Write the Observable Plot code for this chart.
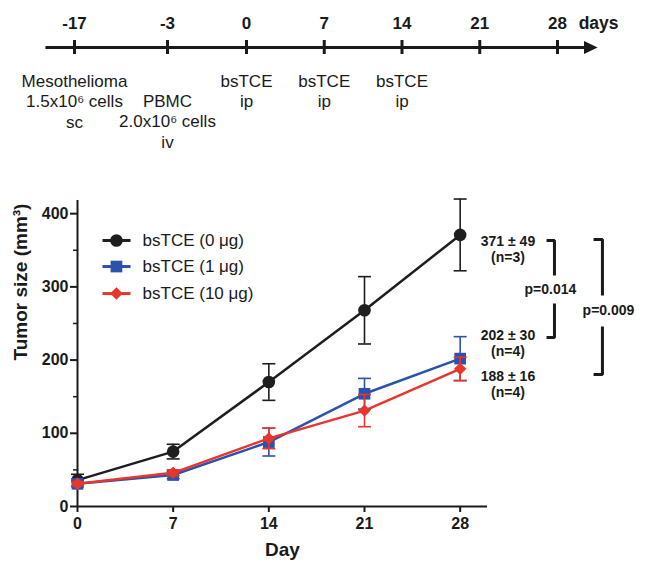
<!DOCTYPE html>
<html><head><meta charset="utf-8">
<script src="https://cdn.jsdelivr.net/npm/d3@7"></script>
<script src="https://cdn.jsdelivr.net/npm/@observablehq/plot@0.6"></script>
<style>
body{margin:0;background:#fff;font-family:"Liberation Sans",Arial,sans-serif;}
#chart svg{display:block}
</style></head><body><div id="chart"></div>
<script>
// ---- Timeline data ----
const timelineDays = [-17, -3, 0, 7, 14, 21, 28];
const timelineUnit = "days";
const timelineEvents = [
  {day: -17, row: 0, label: "Mesothelioma\n1.5x10⁶ cells\nsc"},
  {day: -3, row: 1, label: "PBMC\n2.0x10⁶ cells\niv"},
  {day: 0, row: 0, label: "bsTCE\nip"},
  {day: 7, row: 0, label: "bsTCE\nip"},
  {day: 14, row: 0, label: "bsTCE\nip"}
];

// ---- Tumor growth data ----
const days = [0, 7, 14, 21, 28];
const seriesNames = ["bsTCE (0 μg)", "bsTCE (1 μg)", "bsTCE (10 μg)"];
const mean0 = [36, 75, 170, 268, 371];
const err0 = [8, 10, 25, 46, 49];
const mean1 = [31, 43, 88, 154, 202];
const err1 = [4, 5, 19, 21, 30];
const mean10 = [31, 46, 93, 131, 188];
const err10 = [3, 4, 14, 22, 16];
const yTicks = [0, 100, 200, 300, 400];
const yMinorTicks = [50, 150, 250, 350];
const finalLabels = ["371 ± 49\n(n=3)", "202 ± 30\n(n=4)", "188 ± 16\n(n=4)"];
const pValues = ["p=0.014", "p=0.009"];

// ---- styling / layout ----
const FONT = "'Liberation Sans', Arial, Helvetica, sans-serif";
const seriesColors = ["#1e1e1e", "#2b52ad", "#e8352d"];
const seriesSymbols = ["circle", "square", "diamond2"];
const seriesR = [6.3, 6.6, 5.6];
const means = [mean0, mean1, mean10];
const errs = [err0, err1, err10];

const rows = seriesNames.flatMap((s, i) => days.map((d, j) => ({
  series: s, idx: i, day: d, mean: means[i][j],
  lo: means[i][j] - errs[i][j], hi: means[i][j] + errs[i][j]
})));

const capSymbol = {draw(ctx) { ctx.moveTo(-6.5, 0); ctx.lineTo(6.5, 0); }};
const arrowHead = {draw(ctx) { ctx.moveTo(6.8, 0); ctx.lineTo(-6.8, -6.5); ctx.lineTo(-6.8, 6.5); ctx.closePath(); }};

// ---- Timeline plot ----
const timeline = Plot.plot({
  width: 650, height: 165, margin: 0,
  x: {type: "linear", domain: [-17, -3, 0, 28], range: [74, 167, 246, 557], axis: null},
  y: {type: "identity", axis: null},
  style: {fontFamily: FONT, color: "#1a1a1a", background: "white"},
  marks: [
    Plot.ruleY([47], {x1: -21.3, x2: 31.0, stroke: "#1a1a1a", strokeWidth: 3}),
    Plot.ruleX(timelineDays, {x: d => d, y1: 40, y2: 54, stroke: "#1a1a1a", strokeWidth: 3}),
    Plot.dot([31.0], {x: d => d, y: 47, symbol: arrowHead, fill: "#1a1a1a", stroke: "none"}),
    Plot.text(timelineDays, {x: d => d, y: 23, text: d => String(d), fontWeight: "bold", fontSize: 17, lineAnchor: "middle"}),
    Plot.text([timelineUnit], {x: 31.7, y: 23, text: d => d, fontWeight: "bold", fontSize: 17.5, lineAnchor: "middle"}),
    Plot.text(timelineEvents, {x: "day", y: d => 72 + d.row * 20, text: "label", fontSize: 17, lineAnchor: "top", lineHeight: 1.2})
  ]
});

// ---- Main plot ----
const marks = [
  Plot.axisX({ticks: days, tickSize: 6, tickPadding: 5, strokeWidth: 2, label: null, fontSize: 16, fontWeight: "bold"}),
  Plot.axisY({ticks: yTicks, tickSize: 7, tickPadding: 2, strokeWidth: 2, label: null, fontSize: 16, fontWeight: "bold"}),
  Plot.axisY({ticks: yMinorTicks, tickSize: 4, tickFormat: () => "", strokeWidth: 1.5, label: null}),
  Plot.ruleY([0], {stroke: "#1a1a1a", strokeWidth: 2}),
  Plot.ruleX([0], {stroke: "#1a1a1a", strokeWidth: 2})
];

seriesNames.forEach((name, i) => {
  const data = rows.filter(r => r.idx === i);
  const c = seriesColors[i];
  marks.push(
    Plot.ruleX(data, {x: "day", y1: "lo", y2: "hi", stroke: c, strokeWidth: 1.6}),
    Plot.dot(data, {x: "day", y: "lo", symbol: capSymbol, stroke: c, fill: "none", strokeWidth: 1.6}),
    Plot.dot(data, {x: "day", y: "hi", symbol: capSymbol, stroke: c, fill: "none", strokeWidth: 1.6}),
    Plot.line(data, {x: "day", y: "mean", stroke: c, strokeWidth: 2.5}),
    Plot.dot(data, {x: "day", y: "mean", symbol: seriesSymbols[i], r: seriesR[i], fill: c, stroke: "none"})
  );
});

// legend (inside plot)
const legendY = [363.4, 327.8, 290.9];
seriesNames.forEach((name, i) => {
  const c = seriesColors[i];
  marks.push(
    Plot.link([name], {x1: 1.83, x2: 3.88, y1: legendY[i], y2: legendY[i], stroke: c, strokeWidth: 3}),
    Plot.dot([name], {x: 2.85, y: legendY[i], symbol: seriesSymbols[i], r: seriesR[i], fill: c, stroke: "none"}),
    Plot.text([name], {x: 4.76, y: legendY[i], text: d => d, textAnchor: "start", fontSize: 17, fontWeight: "normal", fill: "#1a1a1a"})
  );
});

// final-value annotations
const annotY = [352.5, 224, 168];
marks.push(Plot.text(finalLabels, {x: 31.5, y: (d, i) => annotY[i], text: d => d, fontSize: 14, fontWeight: "bold", lineHeight: 1.15, lineAnchor: "middle"}));

// significance brackets
function bracket(id, xv, xt, top, gapTop, gapBottom, bottom) {
  return [
    {id: id + "a", x: xt, y: top}, {id: id + "a", x: xv, y: top}, {id: id + "a", x: xv, y: gapTop},
    {id: id + "b", x: xv, y: gapBottom}, {id: id + "b", x: xv, y: bottom}, {id: id + "b", x: xt, y: bottom}
  ];
}
const bracketPts = [
  ...bracket("p1", 34.9, 34.32, 363.4, 315.5, 277.3, 230.8),
  ...bracket("p2", 38.41, 37.76, 364.7, 288.2, 245.9, 180.3)
];
marks.push(
  Plot.line(bracketPts, {x: "x", y: "y", z: "id", stroke: "#1a1a1a", strokeWidth: 3, strokeLinejoin: "miter", strokeLinecap: "butt"}),
  Plot.text(pValues, {x: (d, i) => [34.6, 38.85][i], y: (d, i) => [296.4, 267.7][i], text: d => d, fontSize: 14, fontWeight: "bold"})
);

// axis titles
marks.push(
  Plot.text(["Tumor size (mm³)"], {frameAnchor: "left", dx: -57, dy: 7, rotate: -90, text: d => d, fontSize: 19, fontWeight: "bold"}),
  Plot.text(["Day"], {frameAnchor: "bottom", dy: 49, text: d => d, fontSize: 19, fontWeight: "bold"})
);

const main = Plot.plot({
  width: 650, height: 407,
  marginLeft: 77, marginRight: 163, marginTop: 35, marginBottom: 66,
  x: {domain: [0, 30]},
  y: {domain: [0, 418]},
  style: {fontFamily: FONT, fontSize: "16px", color: "#1a1a1a", background: "white", overflow: "visible"},
  marks
});

document.getElementById("chart").append(timeline, main);
</script></body></html>
